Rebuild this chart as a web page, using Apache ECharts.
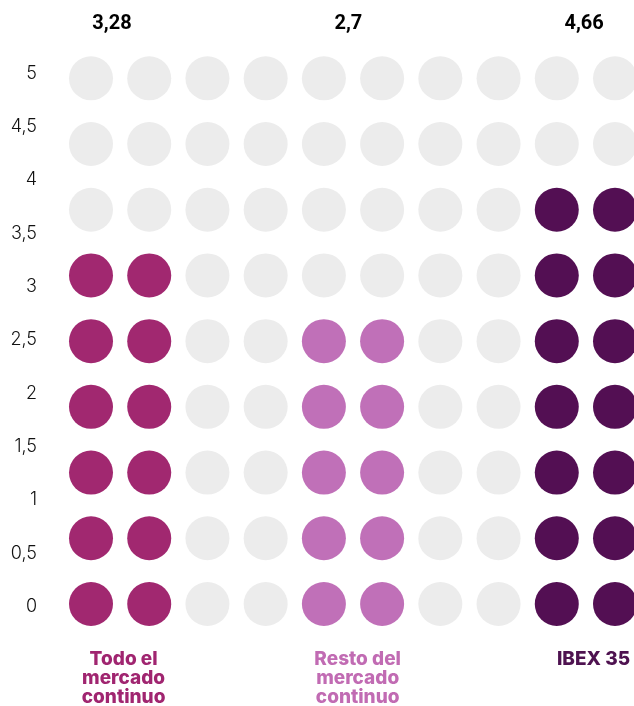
<!DOCTYPE html>
<html>
<head>
<meta charset="utf-8">
<script src="https://cdn.jsdelivr.net/npm/echarts@6/dist/echarts.min.js"></script>
<style>
html,body{margin:0;padding:0;background:#fff;}
#chart{width:634px;height:706px;}
</style>
</head>
<body>
<div id="chart"></div>
<script>
// ---- data ----
const categories = ['Todo el\nmercado\ncontinuo', 'Resto del\nmercado\ncontinuo', 'IBEX 35'];
const values = [3.28, 2.7, 4.66];
const filledRows = [6, 5, 7];
const categoryColumns = [[0, 1], [4, 5], [8, 9]];
const rowCount = 9;
const colCount = 10;
const yAxisMin = 0, yAxisMax = 5, yAxisStep = 0.5;

// ---- style ----
const dotColors = ['#a12870', '#c070b8', '#530f53'];
const textColors = ['#a02570', '#c16bb3', '#4e1250'];
const emptyColor = '#ececec';
const valueLabelOffset = [-0.14, -0.08, -0.03];
const catLabelOffset = [0.06, 0.08, 0.13];

const emptyData = [];
const filledData = categories.map(() => []);
for (let c = 0; c < colCount; c++) {
  const k = categoryColumns.findIndex(cols => cols.includes(c));
  for (let r = 0; r < rowCount; r++) {
    if (k >= 0 && r < filledRows[k]) filledData[k].push([c, r]);
    else emptyData.push([c, r]);
  }
}
const fmt = v => String(v).replace('.', ',');
const centerOf = k => (categoryColumns[k][0] + categoryColumns[k][categoryColumns[k].length - 1]) / 2;

const series = [{
  type: 'scatter', xAxisIndex: 1, yAxisIndex: 1, clip: false, silent: true,
  symbolSize: 44, itemStyle: { color: emptyColor, opacity: 1 }, data: emptyData
}];
categories.forEach((cat, k) => {
  series.push({
    type: 'scatter', xAxisIndex: 1, yAxisIndex: 1, clip: false, silent: true,
    symbolSize: 44, itemStyle: { color: dotColors[k], opacity: 1 }, data: filledData[k]
  });
});
// value labels on top
series.push({
  type: 'scatter', xAxisIndex: 1, yAxisIndex: 1, clip: false, silent: true,
  symbolSize: 1, itemStyle: { opacity: 1, color: 'rgba(0,0,0,0)' },
  data: values.map((v, k) => ({ value: [centerOf(k) + valueLabelOffset[k], 8.82], name: fmt(v) })),
  label: {
    show: true, position: 'inside', formatter: p => p.name,
    fontFamily: 'Roboto', fontWeight: 'bold', fontSize: 20, color: '#000'
  }
});
// category labels at bottom
series.push({
  type: 'scatter', xAxisIndex: 1, yAxisIndex: 1, clip: false, silent: true,
  symbolSize: 1, itemStyle: { opacity: 1, color: 'rgba(0,0,0,0)' },
  data: categories.map((c, k) => ({
    value: [centerOf(k) + catLabelOffset[k], -0.70], name: c,
    label: { color: textColors[k] }
  })),
  label: {
    show: true, position: 'inside', verticalAlign: 'top', align: 'center',
    formatter: p => p.name, lineHeight: 19,
    fontFamily: 'Inter', fontWeight: 800, fontSize: 19
  }
});

const chart = echarts.init(document.getElementById('chart'));
chart.setOption({
  animation: false,
  backgroundColor: '#fff',
  grid: [
    { left: 40, right: 20, top: 73.3, bottom: 99.3 },
    { left: 91, right: 19, top: 78.3, bottom: 102 }
  ],
  xAxis: [
    { gridIndex: 0, type: 'value', show: false },
    { gridIndex: 1, type: 'value', min: 0, max: colCount - 1, show: false }
  ],
  yAxis: [
    {
      gridIndex: 0, type: 'value', min: yAxisMin, max: yAxisMax, interval: yAxisStep,
      axisLine: { show: false }, axisTick: { show: false }, splitLine: { show: false },
      axisLabel: {
        margin: 3, formatter: fmt, fontFamily: 'Inter', fontWeight: 300,
        fontSize: 18, color: '#111'
      }
    },
    { gridIndex: 1, type: 'value', min: 0, max: rowCount - 1, show: false }
  ],
  series: series
});
</script>
</body>
</html>
